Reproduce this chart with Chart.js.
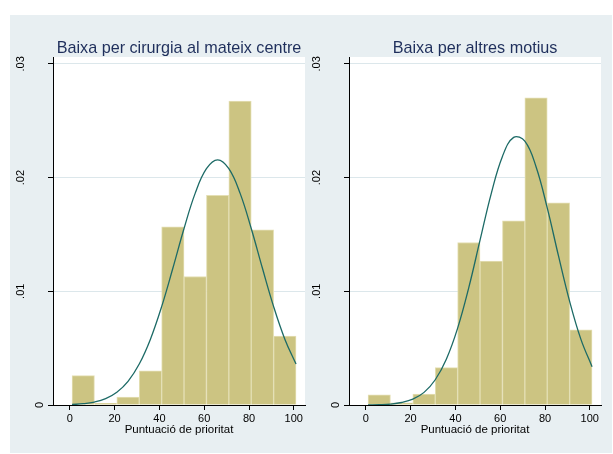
<!DOCTYPE html>
<html>
<head>
<meta charset="utf-8">
<script src="https://cdn.jsdelivr.net/npm/chart.js@4"></script>
<style>
  body { margin: 0; background: #fff; }
  #frame { position: absolute; left: 10px; top: 15px; width: 602px; height: 438px; background: #e8eff2; }
  canvas { position: absolute; top: 15px; }
</style>
</head>
<body>
<div id="frame"></div>
<canvas id="leftChart" width="300" height="438" style="left:10px"></canvas>
<canvas id="rightChart" width="302" height="438" style="left:310px"></canvas>
<script>
// histogram bins 1-11, 11-21 ... 91-101 (width 10), density scale
const binCenters = [6, 16, 26, 36, 46, 56, 66, 76, 86, 96];
const surgeryDensity = [0.00258, 0.00015, 0.0007, 0.0030, 0.01567, 0.0113, 0.01843, 0.02673, 0.0154, 0.00607];
const otherDensity = [0.0009, 0.0002, 0.00097, 0.00328, 0.01429, 0.01265, 0.0162, 0.0270, 0.01778, 0.0066];

// normal density overlay, read every 5 points
const curveX = [1, 6, 11, 16, 21, 26, 31, 36, 41, 46, 51, 56, 61, 66, 71, 76, 81, 86, 91, 96, 101];
const surgeryCurve = [0.000045, 0.000112, 0.00026, 0.00056, 0.00112, 0.00208, 0.0036, 0.00579, 0.00865, 0.01202,
  0.01552, 0.01863, 0.02078, 0.02156, 0.02078, 0.01863, 0.01552, 0.01202, 0.00865, 0.00579, 0.0036];
const otherCurve = [0.00001, 0.00003, 0.00008, 0.00022, 0.00051, 0.00111, 0.00222, 0.00405, 0.00676, 0.01034,
  0.01449, 0.01859, 0.02186, 0.02353, 0.0232, 0.02095, 0.01733, 0.01313, 0.00911, 0.00579, 0.00337];

const xTicks = [0, 20, 40, 60, 80, 100];
const yTicks = [0, 0.01, 0.02, 0.03];
const yTickLabels = ['0', '.01', '.02', '.03'];
const xTitle = 'Puntuació de prioritat';

Chart.defaults.font.family = '"Liberation Sans", Arial, sans-serif';

// white plot area, panel title and rotated y labels
const frameTexts = {
  id: 'frameTexts',
  beforeDraw(chart) {
    const a = chart.chartArea, c = chart.ctx;
    c.save();
    c.fillStyle = '#fff';
    c.fillRect(a.left, a.top, a.right - a.left, a.bottom - a.top);
    c.restore();
  },
  afterDraw(chart, args, opts) {
    const a = chart.chartArea, c = chart.ctx, ys = chart.scales.y;
    c.save();
    c.fillStyle = '#1f2f5c';
    c.font = '16.2px "Liberation Sans", Arial, sans-serif';
    c.textAlign = 'center';
    c.textBaseline = 'alphabetic';
    c.fillText(opts.title, (a.left + a.right) / 2, a.top - 4);

    c.fillStyle = '#000';
    c.font = '11px "Liberation Sans", Arial, sans-serif';
    c.textBaseline = 'middle';
    yTicks.forEach((v, i) => {
      const lab = yTickLabels[i];
      c.save();
      c.translate(a.left - (lab === '0' ? 13.5 : 32.5), ys.getPixelForValue(v));
      c.rotate(-Math.PI / 2);
      c.fillText(lab, 0, 0);
      c.restore();
    });
    c.restore();
  }
};

function buildChart(canvasId, density, curve, title, padRight, yWidth) {
  return new Chart(document.getElementById(canvasId), {
    type: 'bar',
    data: {
      datasets: [
        {
          type: 'line',
          data: curveX.map((x, i) => ({ x: x, y: curve[i] })),
          borderColor: '#1c6a66',
          borderWidth: 1.3,
          pointRadius: 0,
          tension: 0.4,
          order: 0
        },
        {
          type: 'bar',
          data: binCenters.map((x, i) => ({ x: x, y: density[i] })),
          backgroundColor: '#ccc482',
          borderColor: '#e4dfb4',
          borderWidth: 1,
          barPercentage: 1,
          categoryPercentage: 1,
          order: 1
        }
      ]
    },
    options: {
      responsive: false,
      animation: false,
      layout: { padding: { left: 0, right: padRight, top: 42, bottom: 0 } },
      plugins: {
        legend: { display: false },
        tooltip: { enabled: false },
        frameTexts: { title: title }
      },
      scales: {
        x: {
          type: 'linear',
          min: -7.5,
          max: 105,
          offset: false,
          afterBuildTicks: s => { s.ticks = xTicks.map(v => ({ value: v })); },
          afterFit: s => { s.height = 48; },
          grid: { drawOnChartArea: false, tickLength: 5, tickColor: '#000', offset: false },
          border: { color: '#000', width: 1 },
          ticks: { color: '#000', font: { size: 11 }, padding: 2, maxRotation: 0, autoSkip: false },
          title: { display: true, text: xTitle, color: '#000', font: { size: 11.5 }, padding: { top: 0, bottom: 16 } }
        },
        y: {
          min: 0,
          max: 0.0306,
          afterBuildTicks: s => { s.ticks = yTicks.map(v => ({ value: v })); },
          afterFit: s => { s.width = yWidth; },
          grid: {
            color: ctx => (ctx.tick && ctx.tick.value === 0) ? 'rgba(0,0,0,0)' : '#dce7eb',
            tickColor: '#000',
            tickLength: 5
          },
          border: { color: '#000', width: 1 },
          ticks: { display: false }
        }
      }
    },
    plugins: [frameTexts]
  });
}

buildChart('leftChart', surgeryDensity, surgeryCurve, 'Baixa per cirurgia al mateix centre', 5, 43);
buildChart('rightChart', otherDensity, otherCurve, 'Baixa per altres motius', 11, 39);
</script>
</body>
</html>
